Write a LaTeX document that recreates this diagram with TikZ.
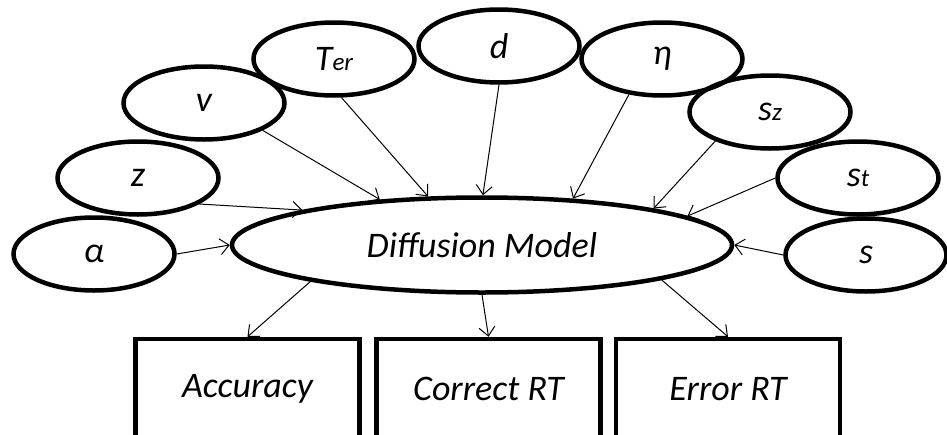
\documentclass[tikz,border=0pt]{standalone}
\usepackage{fontspec}
\setmainfont{Carlito}
\usetikzlibrary{shapes.geometric,arrows.meta}
\newcommand{\smalltxt}[1]{{\fontsize{25}{26}\selectfont #1}}
\begin{document}
\begin{tikzpicture}[x=1pt,y=-1pt,
  par/.style={ellipse,draw,line width=4.5pt,minimum width=161pt,minimum height=73pt,inner sep=0pt,
    font=\fontsize{36}{38}\selectfont\itshape},
  model/.style={ellipse,draw,line width=4.5pt,minimum width=500pt,minimum height=95pt,inner sep=0pt,
    font=\fontsize{36}{38}\selectfont\itshape},
  outbox/.style={rectangle,draw,line width=4.5pt,minimum width=224pt,minimum height=100pt,inner sep=0pt,
    font=\fontsize{36}{38}\selectfont\itshape},
  conn/.style={-{Straight Barb[length=9pt,width=16pt]},line width=1pt}
]
\useasboundingbox (0,0) rectangle (947,434);
\fill[white] (0,0) rectangle (947,434);

\node[model] (dm) at (482,245) {Diffusion Model};

\node[par] (alpha) at (94,254) {α};
\node[par] (z) at (138,178) {z};
\node[par] (v) at (204,103) {v};
\node[par] (ter) at (334,59) {T\smalltxt{er}};
\node[par] (d) at (499,46) {d};
\node[par] (eta) at (662,59) {η};
\node[par] (sz) at (770,112) {s\smalltxt{z}};
\node[par] (st) at (858,178) {s\smalltxt{t}};
\node[par] (s) at (866,255) {s};

\node[outbox] (acc) at (247.5,389) {Accuracy};
\node[outbox] (crt) at (488.5,389) {Correct RT};
\node[outbox] (ert) at (728,389) {Error RT};

\draw[conn] (alpha.0) -- (dm.180);
\draw[conn] (z.-23) -- (dm.169);
\draw[conn] (v.-25) -- (dm.156);
\draw[conn] (ter.-79) -- (dm.138);
\draw[conn] (d.-90) -- (dm.89);
\draw[conn] (eta.-133) -- (dm.27);
\draw[conn] (sz.-152) -- (dm.12);
\draw[conn] (st.180) -- (dm.8);
\draw[conn] (s.180) -- (dm.0);

\draw[conn] (dm.-168.6) -- (acc.north);
\draw[conn] (dm.-90) -- (crt.north);
\draw[conn] (dm.-11.3) -- (ert.north);
\end{tikzpicture}
\end{document}
